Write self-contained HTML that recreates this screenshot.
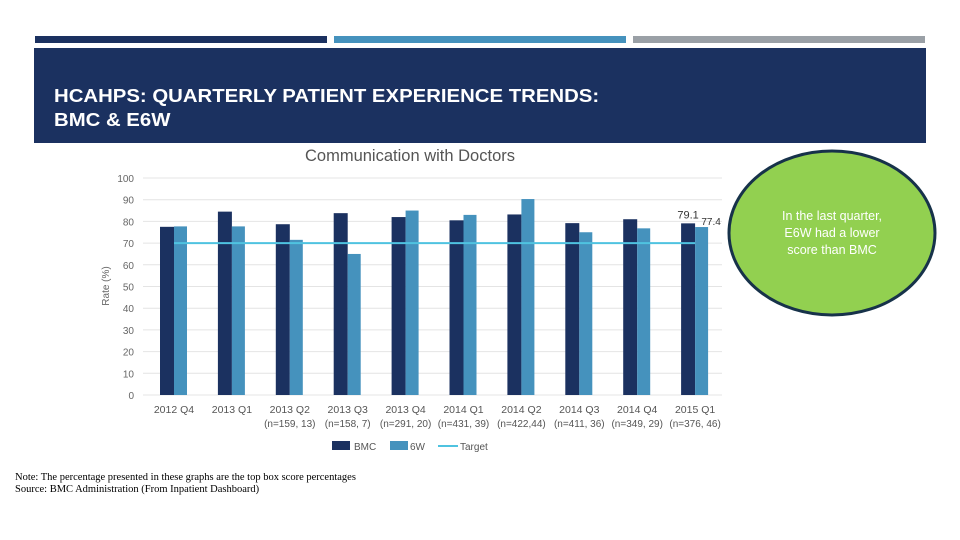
<!DOCTYPE html>
<html><head><meta charset="utf-8"><style>
body{margin:0;width:960px;height:540px;background:#fff;position:relative;overflow:hidden;font-family:"Liberation Sans",sans-serif}
.abs{position:absolute}
</style></head><body>
<div class="abs" style="left:35px;top:36px;width:292px;height:7px;background:#1b3160"></div>
<div class="abs" style="left:334px;top:36px;width:292px;height:7px;background:#4592bd"></div>
<div class="abs" style="left:633px;top:36px;width:292px;height:7px;background:#9aa0a6"></div>
<div class="abs" style="left:34px;top:48px;width:892px;height:95px;background:#1b3160"></div>
<div class="abs" style="left:54px;top:84px;color:#fff;font-size:18px;font-weight:bold;line-height:24px;transform:scaleX(1.13);transform-origin:0 0;white-space:nowrap">HCAHPS: QUARTERLY PATIENT EXPERIENCE TRENDS:<br>BMC &amp; E6W</div>
<svg class="abs" style="left:0;top:0" width="960" height="540">
<text x="410" y="161" text-anchor="middle" font-size="16.5" fill="#555">Communication with Doctors</text>
<text transform="translate(109,286) rotate(-90)" text-anchor="middle" font-size="10" fill="#666">Rate (%)</text>
<g id="grid"></g><g id="bars"></g><g id="xl"></g>
<g>
<rect x="332" y="441" width="18" height="9" fill="#1b3160"/><text x="354" y="450" font-size="10" fill="#555">BMC</text>
<rect x="390" y="441" width="18" height="9" fill="#4592bd"/><text x="410" y="450" font-size="10" fill="#555">6W</text>
<line x1="438" y1="446" x2="458" y2="446" stroke="#4fc3e0" stroke-width="2"/><text x="460" y="450" font-size="10" fill="#555">Target</text>
</g>
</svg>
<svg class="abs" style="left:726px;top:148px" width="212" height="170">
<ellipse cx="106" cy="85" rx="103" ry="82" fill="#92d050" stroke="#17324a" stroke-width="3"/>
<text x="106" y="72" text-anchor="middle" font-size="12.5" fill="#fff">In the last quarter,</text>
<text x="106" y="89" text-anchor="middle" font-size="12.5" fill="#fff">E6W had a lower</text>
<text x="106" y="106" text-anchor="middle" font-size="12.5" fill="#fff">score than BMC</text>
</svg>
<div class="abs" style="left:15px;top:472px;font-family:'Liberation Serif',serif;font-size:10.5px;line-height:12px;color:#000;white-space:nowrap">Note: The percentage presented in these graphs are the top box score percentages<br>Source: BMC Administration (From Inpatient Dashboard)</div>
<script>
const categories=["2012 Q4","2013 Q1","2013 Q2","2013 Q3","2013 Q4","2014 Q1","2014 Q2","2014 Q3","2014 Q4","2015 Q1"];
const sampleLabels=["","","(n=159, 13)","(n=158, 7)","(n=291, 20)","(n=431, 39)","(n=422,44)","(n=411, 36)","(n=349, 29)","(n=376, 46)"];
const bmc=[77.5,84.5,78.7,83.8,82,80.5,83.2,79.2,81,79.1];
const w6=[77.7,77.7,71.5,65,85,83,90.3,75,76.8,77.4];
const target=70;
const yTicks=[0,10,20,30,40,50,60,70,80,90,100];
const NS="http://www.w3.org/2000/svg";
const y=v=>395-v*2.17;
const xc=i=>174+i*57.9;
function mk(p,t,a){const e=document.createElementNS(NS,t);for(const k in a)e.setAttribute(k,a[k]);document.getElementById(p).appendChild(e);return e;}
yTicks.forEach(t=>{
 const l=mk("grid","line",{x1:143,x2:722,y1:y(t),y2:y(t),stroke:"#e4e4e4"});
 
 
 const tx=mk("grid","text",{x:134,y:y(t)+4,"text-anchor":"end","font-size":10,fill:"#666"});tx.textContent=t;
 
 
});
categories.forEach((c,i)=>{
 const b=mk("bars","rect",{x:xc(i)-14,y:y(bmc[i]),width:14,height:y(0)-y(bmc[i]),fill:"#1b3160"});
 
 
 const b2=mk("bars","rect",{x:xc(i),y:y(w6[i]),width:13,height:y(0)-y(w6[i]),fill:"#4592bd"});
 
 
 const t=mk("xl","text",{x:xc(i),y:413,"text-anchor":"middle","font-size":10.5,fill:"#555"});t.textContent=c;
 
 
 const s=mk("xl","text",{x:xc(i),y:427,"text-anchor":"middle","font-size":10,fill:"#555"});s.textContent=sampleLabels[i];
 
 
});
const tl=mk("bars","line",{x1:xc(0),x2:xc(categories.length-1),y1:y(target),y2:y(target),stroke:"#4fc3e0","stroke-width":2});


const n=categories.length-1;
const v1=mk("bars","text",{x:xc(n)-7,y:y(bmc[n])-5,"text-anchor":"middle","font-size":11,fill:"#333"});v1.textContent=bmc[n];


const v2=mk("bars","text",{x:xc(n)+16,y:y(w6[n])-2,"text-anchor":"middle","font-size":10,fill:"#333"});v2.textContent=w6[n];


</script>
</body></html>
